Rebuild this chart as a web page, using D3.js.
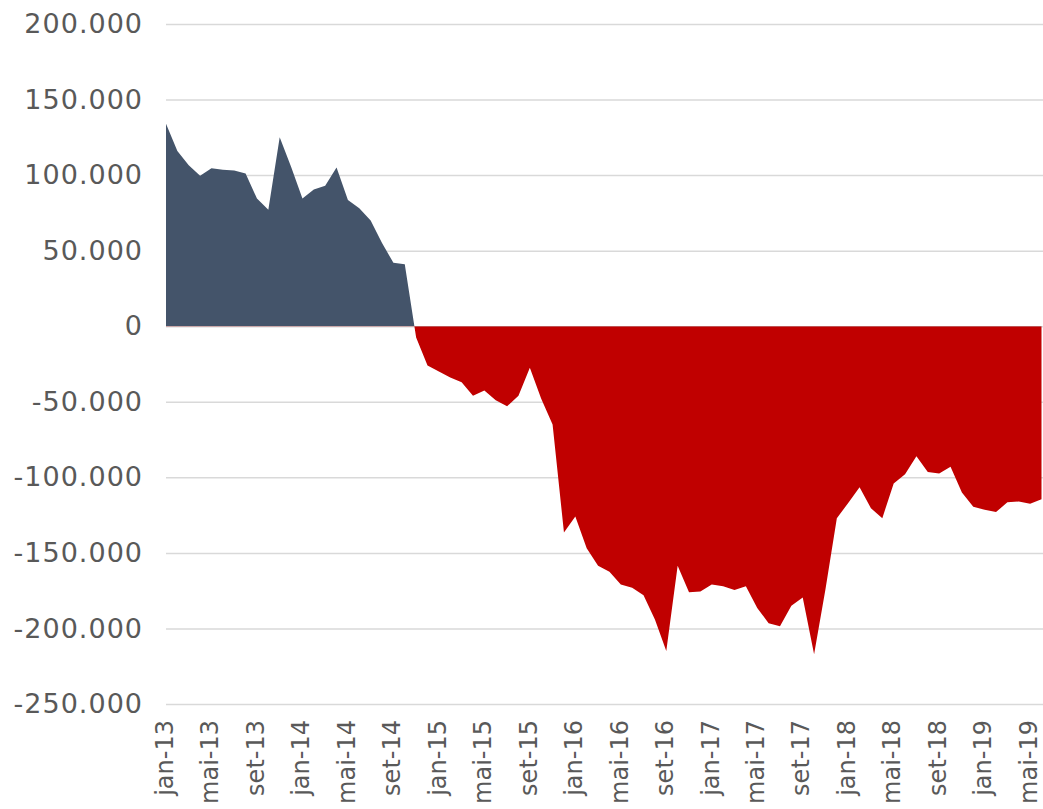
<!DOCTYPE html>
<html>
<head>
<meta charset="utf-8">
<script src="https://cdn.jsdelivr.net/npm/d3@7"></script>
<style>
  body { margin: 0; background: #fff; }
  svg text { font-family: "DejaVu Sans", sans-serif; fill: #595959; }
</style>
</head>
<body>
<div id="chart"></div>
<script>
"use strict";

var monthNames = ["jan", "fev", "mar", "abr", "mai", "jun", "jul", "ago", "set", "out", "nov", "dez"];
var years = ["13", "14", "15", "16", "17", "18", "19"];
var saldo = [134000, 116000, 106500, 99500, 104500, 103500, 103000, 101000, 84500, 77000,
  125000, 105500, 84500, 90500, 93000, 105000, 83500, 78000, 70000, 55000,
  42000, 41000, -7500, -26000, -30000, -34000, -37000, -46000, -42500, -49000,
  -53000, -46000, -27500, -48000, -65000, -136500, -126000, -147000, -158500, -162500,
  -171000, -173000, -178000, -194000, -215000, -158500, -176000, -175500, -171000, -172000,
  -174500, -172000, -186500, -196500, -198500, -185000, -179500, -217000, -174000, -127000,
  -117000, -106500, -120500, -127000, -104000, -98000, -86000, -96500, -97500, -93000,
  -110000, -119500, -121500, -123000, -116500, -116000, -117500, -114500];
var yTicks = [-250000, -200000, -150000, -100000, -50000, 0, 50000, 100000, 150000, 200000];

// one category per month, jan-13 onwards
var months = [];
years.forEach(function(yy) {
  monthNames.forEach(function(m) {
    if (months.length < saldo.length) months.push(m + "-" + yy);
  });
});
var xLabels = months.filter(function(d, i) { return i % 4 == 0; });

var dataset = months.map(function(m, i) { return { month: m, value: saldo[i] }; });

var width = 1043, height = 809;
var plotLeft = 166, plotRight = 1043, plotTop = 24, plotBottom = 704;

var locale = d3.formatLocale({ decimal: ",", thousands: ".", grouping: [3], currency: ["", ""], minus: "-" });
var fmt = locale.format(",d");

var x = d3.scalePoint().domain(months).range([plotLeft, 1041.5]);
var y = d3.scaleLinear().domain([-250000, 200000]).range([plotBottom, plotTop]);

var svg = d3.select("#chart").append("svg")
  .attr("width", width)
  .attr("height", height);

// grid + y labels
var yAxis = svg.append("g")
  .attr("transform", "translate(" + plotLeft + ",0)")
  .call(d3.axisLeft(y).tickValues(yTicks).tickFormat(fmt).tickSize(-(plotRight - plotLeft)).tickPadding(23));
yAxis.select(".domain").remove();
yAxis.selectAll(".tick line").attr("stroke", "#d9d9d9").attr("stroke-width", 1.5);
yAxis.selectAll(".tick text")
  .attr("font-size", 27)
  .attr("fill", "#595959")
  .style("letter-spacing", "1px");

var area = d3.area()
  .x(function(d) { return x(d.month); })
  .y0(y(0))
  .y1(function(d) { return y(d.value); });

var defs = svg.append("defs");
defs.append("clipPath").attr("id", "clip-pos").append("rect")
  .attr("x", 0).attr("y", 0).attr("width", width).attr("height", y(0));
defs.append("clipPath").attr("id", "clip-neg").append("rect")
  .attr("x", 0).attr("y", y(0)).attr("width", width).attr("height", height - y(0));

svg.append("path").datum(dataset)
  .attr("clip-path", "url(#clip-pos)")
  .attr("fill", "#44546a")
  .attr("d", area);
svg.append("path").datum(dataset)
  .attr("clip-path", "url(#clip-neg)")
  .attr("fill", "#c00000")
  .attr("d", area);

// x labels
svg.append("g").selectAll("text")
  .data(xLabels)
  .enter()
  .append("text")
  .attr("transform", function(d) { return "translate(" + x(d) + ",720) rotate(-90)"; })
  .attr("text-anchor", "end")
  .attr("dy", "0.28em")
  .attr("font-size", 24)
  .text(function(d) { return d; });
</script>
</body>
</html>
